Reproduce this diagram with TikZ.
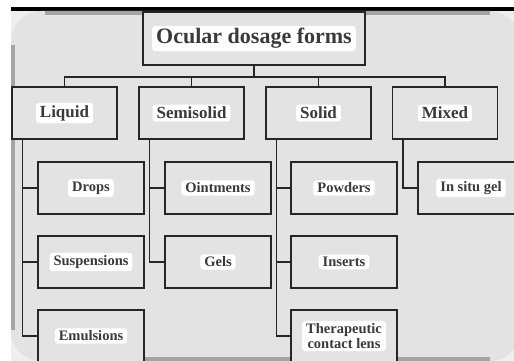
\documentclass[tikz,border=0pt]{standalone}
\usepackage{fontspec}
\setmainfont{Liberation Serif}
\usepackage{tikz}

\definecolor{panelgray}{HTML}{E3E3E3}
\definecolor{cornergray}{HTML}{EFEFEF}
\definecolor{edgegray}{HTML}{A4A4A4}
\definecolor{linecol}{HTML}{262626}
\definecolor{txtcol}{HTML}{3A3A3A}

\tikzset{
  box/.style={draw=linecol, line width=1.3pt, fill=panelgray, inner sep=0pt},
  titlebox/.style={box, minimum width=222pt, minimum height=53pt},
  catbox/.style={box, minimum width=105pt, minimum height=52pt},
  formbox/.style={box, minimum width=106pt, minimum height=52pt},
  lbl/.style={fill=white, rounded corners=3pt, text=txtcol, font=\bfseries,
    inner xsep=4pt, inner ysep=2.5pt, align=center},
  conn/.style={draw=linecol, line width=1.3pt}
}

\begin{document}
\begin{tikzpicture}[x=1pt,y=-1pt]
                \useasboundingbox (0,0) rectangle (514,361);
                \clip (0,0) rectangle (514,361);
                % screenshot panel
                \fill[white] (0,0) rectangle (514,361);
                \fill[black] (11,7) rectangle (514,11);
                \fill[cornergray] (11,11) rectangle (514,361);
                \fill[panelgray, rounded corners=30pt] (11,11) rectangle (520,361);
                \fill[edgegray] (45,11) rectangle (490,15);
                \fill[edgegray] (11,45) rectangle (15,330);
                \fill[edgegray] (45,357) rectangle (490,361);
                % boxes
                \node[titlebox, label={[lbl, font=\bfseries\fontsize{22}{24}\selectfont]center:Ocular dosage forms}] (title) at (254,38.5) {};
                \node[catbox, label={[lbl, font=\bfseries\fontsize{17}{19}\selectfont]center:Liquid}] (liquid) at (64.5,113) {};
                \node[catbox, label={[lbl, font=\bfseries\fontsize{17}{19}\selectfont]center:Semisolid}] (semisolid) at (191.5,113) {};
                \node[catbox, label={[lbl, font=\bfseries\fontsize{17}{19}\selectfont]center:Solid}] (solid) at (318.5,113) {};
                \node[catbox, label={[lbl, font=\bfseries\fontsize{17}{19}\selectfont]center:Mixed}] (mixed) at (445,113) {};
                \node[formbox, label={[lbl, font=\bfseries\fontsize{14.5}{16}\selectfont]center:Drops}] (drops) at (91,188) {};
                \node[formbox, label={[lbl, font=\bfseries\fontsize{14.5}{16}\selectfont]center:Suspensions}] (suspensions) at (91,262) {};
                \node[formbox, label={[lbl, font=\bfseries\fontsize{14.5}{16}\selectfont]center:Emulsions}] (emulsions) at (91,336) {};
                \node[formbox, label={[lbl, font=\bfseries\fontsize{14.5}{16}\selectfont]center:Ointments}] (ointments) at (218,188) {};
                \node[formbox, label={[lbl, font=\bfseries\fontsize{14.5}{16}\selectfont]center:Gels}] (gels) at (218,262) {};
                \node[formbox, label={[lbl, font=\bfseries\fontsize{14.5}{16}\selectfont]center:Powders}] (powders) at (344,188) {};
                \node[formbox, label={[lbl, font=\bfseries\fontsize{14.5}{16}\selectfont]center:Inserts}] (inserts) at (344,262) {};
                \node[formbox, label={[lbl, font=\bfseries\fontsize{14.5}{15}\selectfont]center:Therapeutic\\contact lens}] (contactlens) at (344,336) {};
                \node[formbox, label={[lbl, font=\bfseries\fontsize{14.5}{16}\selectfont]center:In situ gel}] (insitugel) at (471,188) {};
                % connectors
                \coordinate (bus) at (254,77);
                \draw[conn] (title.south) -- (bus);
                \foreach \c in {liquid,semisolid,solid,mixed}
                    \draw[conn] (bus) -| (\c.north);
                \coordinate (liqtrunk) at ([xshift=11pt]liquid.south west);
                \coordinate (semitrunk) at ([xshift=11pt]semisolid.south west);
                \coordinate (soltrunk) at ([xshift=11pt]solid.south west);
                \coordinate (mixtrunk) at ([xshift=11pt]mixed.south west);
                \foreach \c in {drops,suspensions,emulsions}
                    \draw[conn] (liqtrunk) |- (\c.west);
                \foreach \c in {ointments,gels}
                    \draw[conn] (semitrunk) |- (\c.west);
                \foreach \c in {powders,inserts,contactlens}
                    \draw[conn] (soltrunk) |- (\c.west);
                \draw[conn] (mixtrunk) |- (insitugel.west);
            \end{tikzpicture}
\end{document}
